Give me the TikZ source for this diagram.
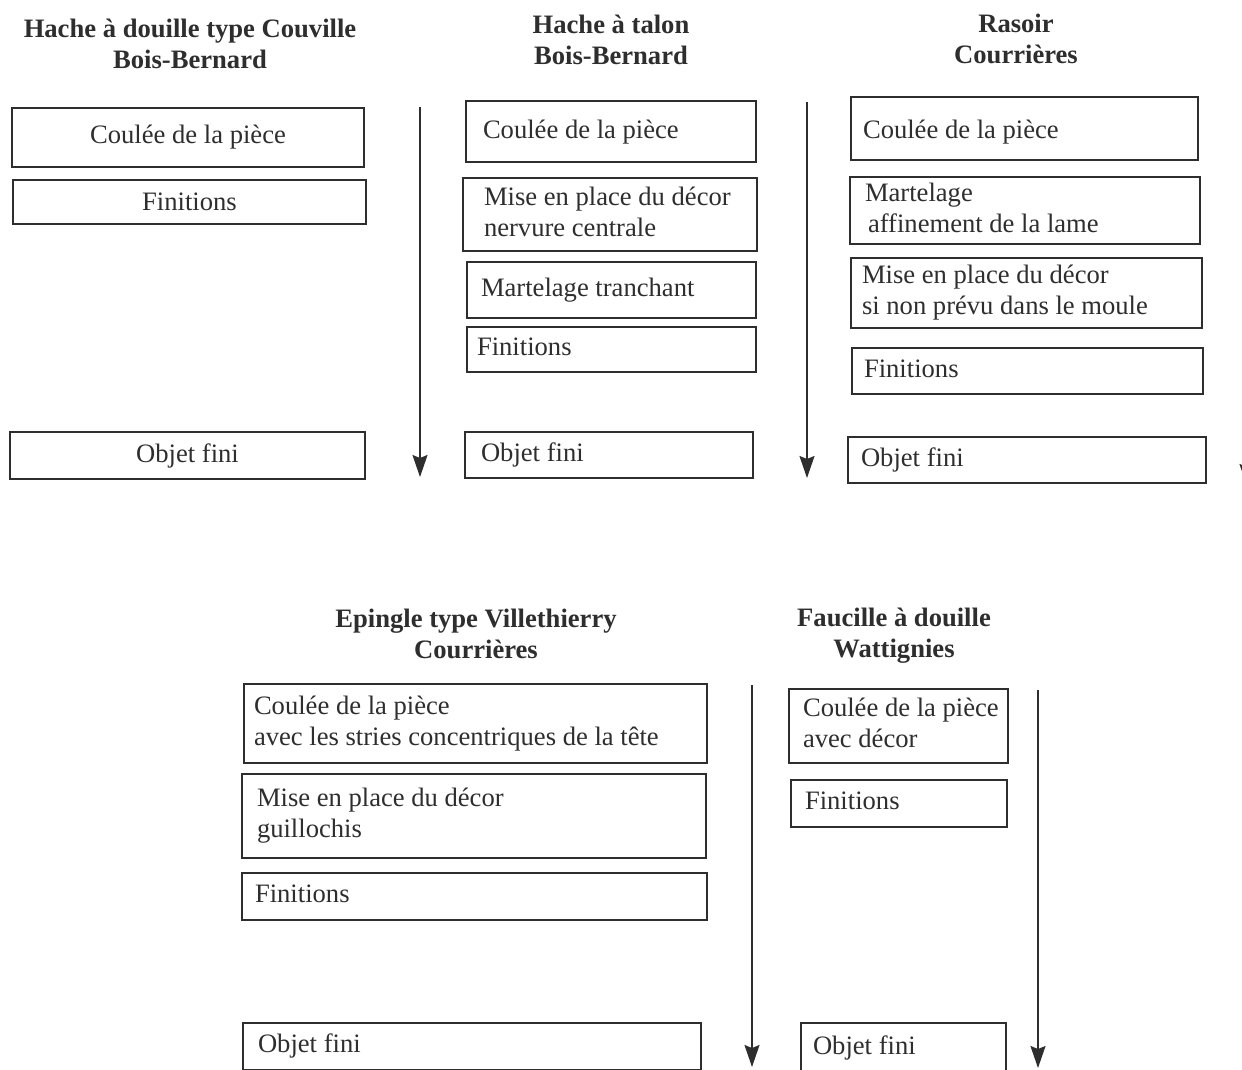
\documentclass[tikz,border=0pt]{standalone}
\usepackage{fontspec}
\setmainfont{Liberation Serif}
\usetikzlibrary{arrows.meta}
\definecolor{ink}{HTML}{2E2E2E}
\tikzset{
  box/.style={draw=ink, line width=2pt, text=ink, font=\fontsize{26.6}{31}\selectfont, inner ysep=0pt, outer sep=0pt},
  ttl/.style={text=ink, font=\fontsize{26.6}{31}\selectfont\bfseries, align=center},
  flow/.style={draw=ink, line width=1.5pt, -{Stealth[length=22pt,width=15pt,inset=3pt]}}
}
\newcommand\lbox[7]{%
  \pgfmathsetmacro\bw{#4-#2}\pgfmathsetmacro\bh{#5-#3}\pgfmathsetmacro\px{#6-#2}%
  \pgfmathsetmacro\tw{\bw-2*\px}%
  \node[box, anchor=north west, minimum width=\bw pt, minimum height=\bh pt,
        inner xsep=\px pt] (#1) at (#2,#3)
        {\makebox[\tw pt][l]{\raisebox{-2pt}{\begin{tabular}{@{}l@{}}#7\end{tabular}}}};}
\newcommand\cbox[6]{%
  \pgfmathsetmacro\bw{#4-#2}\pgfmathsetmacro\bh{#5-#3}%
  \node[box, anchor=north west, minimum width=\bw pt, minimum height=\bh pt,
        inner xsep=0pt] (#1) at (#2,#3) {#6};}
\begin{document}
\begin{tikzpicture}[x=1pt,y=-1pt]
\useasboundingbox[fill=white] (0,0) rectangle (1242,1069);
\clip (0,0) rectangle (1242,1069);

% ---- column 1
\node[ttl] (t1) at (190,44) {Hache à douille type Couville\\Bois-Bernard};
\cbox{a1}{12}{108}{364}{167}{Coulée de la pièce}
\cbox{a2}{13}{180}{366}{224}{Finitions}
\cbox{a3}{10}{432}{365}{479}{Objet fini}
\coordinate (p1s) at (420,107); \coordinate (p1e) at (420,477);
\draw[flow] (p1s) -- (p1e);

% ---- column 2
\node[ttl] (t2) at (611,40) {Hache à talon\\Bois-Bernard};
\lbox{b1}{466}{101}{756}{162}{483}{\raisebox{-1pt}{Coulée de la pièce}}
\lbox{b2}{463}{178}{757}{251}{484}{Mise en place du décor\\nervure centrale}
\lbox{b3}{467}{262}{756}{318}{481}{Martelage tranchant}
\lbox{b4}{467}{327}{756}{372}{477}{Finitions}
\lbox{b5}{465}{432}{753}{478}{481}{Objet fini}
\coordinate (p2s) at (807,102); \coordinate (p2e) at (807,478);
\draw[flow] (p2s) -- (p2e);

% ---- column 3
\node[ttl] (t3) at (1016,39) {Rasoir\\Courrières};
\lbox{c1}{851}{97}{1198}{160}{863}{\raisebox{-4pt}{Coulée de la pièce}}
\lbox{c2}{850}{177}{1200}{244}{865}{Martelage\\\hspace*{3pt}affinement de la lame}
\lbox{c3}{851}{258}{1202}{328}{862}{Mise en place du décor\\si non prévu dans le moule}
\lbox{c4}{852}{348}{1203}{394}{864}{Finitions}
\lbox{c5}{848}{437}{1206}{483}{861}{Objet fini}
\coordinate (p3s) at (1247,100); \coordinate (p3e) at (1247,486);
\draw[flow] (p3s) -- (p3e);

% ---- column 4
\node[ttl] (t4) at (476,634) {Epingle type Villethierry\\Courrières};
\lbox{d1}{244}{684}{707}{763}{254}{Coulée de la pièce\\avec les stries concentriques de la tête}
\lbox{d2}{242}{774}{706}{858}{257}{Mise en place du décor\\guillochis}
\lbox{d3}{242}{873}{707}{920}{255}{Finitions}
\lbox{d4}{243}{1023}{701}{1070}{258}{Objet fini}
\coordinate (p4s) at (752,685); \coordinate (p4e) at (752,1067);
\draw[flow] (p4s) -- (p4e);

% ---- column 5
\node[ttl] (t5) at (894,636) {Faucille à douille\\Wattignies};
\lbox{e1}{789}{689}{1008}{763}{803}{Coulée de la pièce\\avec décor}
\lbox{e2}{791}{780}{1007}{827}{805}{Finitions}
\lbox{e3}{801}{1023}{1006}{1073}{813}{Objet fini}
\coordinate (p5s) at (1038,690); \coordinate (p5e) at (1038,1068);
\draw[flow] (p5s) -- (p5e);
\end{tikzpicture}
\end{document}
